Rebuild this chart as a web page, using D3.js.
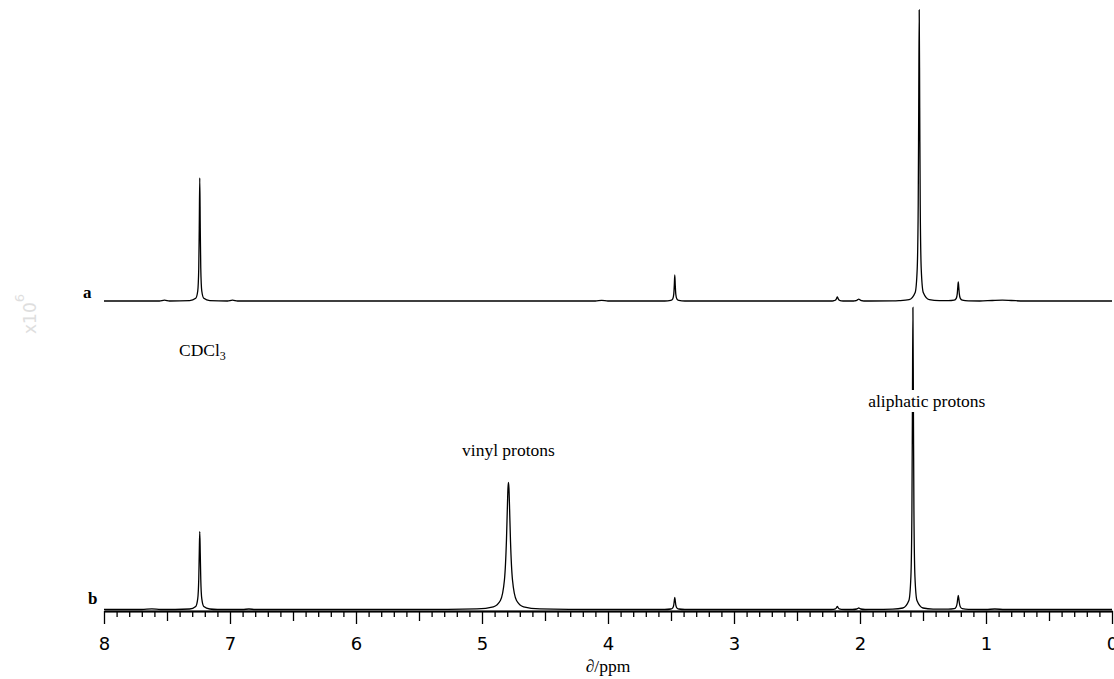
<!DOCTYPE html>
<html><head><meta charset="utf-8">
<script src="https://cdn.jsdelivr.net/npm/d3@7"></script>
<style>
html,body{margin:0;padding:0;background:#fff;}
svg{display:block;}
</style></head>
<body>
<svg id="chart" width="1114" height="679"></svg>
<script>
// ---------- DATA ----------
const majorTicks = [8, 7, 6, 5, 4, 3, 2, 1, 0];
const tickLabels = ["8", "7", "6", "5", "4", "3", "2", "1", "0"];
const xLabel = "\u2202/ppm";
const seriesNames = ["a", "b"];

// spectrum a : [ppm, intensity]
const spectrumA = [
  [8.00,0],[7.56,0],[7.52,0.8],[7.48,0],
  [7.32,0.4],[7.272,2.7],[7.256,10],[7.248,33],[7.244,73],[7.24,123],[7.236,73],[7.232,33],[7.224,10],[7.208,2.7],[7.16,0.4],
  [7.02,0],[6.98,0.9],[6.94,0],
  [4.10,0],[4.05,0.6],[4.00,0],
  [3.55,0],[3.502,0.6],[3.486,2.2],[3.478,6.9],[3.474,15.4],[3.47,26],[3.466,15.4],[3.462,6.9],[3.454,2.2],[3.438,0.6],[3.39,0],
  [2.23,0],[2.212,0.2],[2.196,0.8],[2.188,2],[2.184,3.2],[2.18,4],[2.176,3.2],[2.172,2],[2.164,0.8],[2.148,0.2],[2.12,0],
  [2.06,0],[2.042,0.2],[2.026,0.7],[2.018,1.4],[2.01,1.9],[2.002,1.4],[1.994,0.7],[1.978,0.2],[1.96,0],
  [1.74,0.1],[1.69,0.36],[1.61,1.4],[1.562,8.6],[1.546,32],[1.538,96],[1.534,193],[1.53,291],[1.526,193],[1.522,96],[1.514,32],[1.498,8.6],[1.45,1.4],[1.37,0.36],
  [1.30,0.3],[1.252,0.8],[1.236,2.6],[1.228,7.4],[1.224,13.7],[1.22,19],[1.216,13.7],[1.212,7.4],[1.204,2.6],[1.188,0.8],[1.14,0.15],
  [1.05,0],[0.95,0.5],[0.87,0.8],[0.80,0.5],[0.70,0],
  [0.00,0]
];

// spectrum b : [ppm, intensity]
const spectrumB = [
  [8.00,0],[7.70,0],[7.62,0.6],[7.55,0],
  [7.32,0.5],[7.272,3],[7.256,10.8],[7.248,30.5],[7.244,56],[7.24,78],[7.236,56],[7.232,30.5],[7.224,10.8],[7.208,3],[7.16,0.5],[7.10,0],
  [6.90,0],[6.85,0.5],[6.80,0],
  [5.27,0.15],[5.04,0.6],[4.91,2.7],[4.854,9],[4.822,29.5],[4.806,69],[4.798,105],[4.794,121],[4.79,127],[4.786,121],[4.782,105],[4.774,69],[4.758,29.5],[4.726,9],[4.67,2.7],[4.54,0.6],[4.31,0.15],
  [3.55,0],[3.502,0.5],[3.486,1.7],[3.478,4.7],[3.474,8.6],[3.47,12],[3.466,8.6],[3.462,4.7],[3.454,1.7],[3.438,0.5],[3.39,0],
  [2.23,0],[2.212,0.15],[2.196,0.6],[2.188,1.5],[2.184,2.4],[2.18,3],[2.176,2.4],[2.172,1.5],[2.164,0.6],[2.148,0.15],[2.12,0],
  [2.06,0],[2.026,0.5],[2.018,1],[2.01,1.5],[2.002,1],[1.994,0.5],[1.96,0],
  [1.90,0.1],[1.74,0.37],[1.66,1.5],[1.612,9],[1.596,33],[1.588,99],[1.584,200],[1.58,302],[1.576,200],[1.572,99],[1.564,33],[1.548,9],[1.50,1.5],[1.42,0.37],
  [1.30,0.3],[1.252,0.8],[1.236,2.8],[1.228,7],[1.224,11.2],[1.22,14],[1.216,11.2],[1.212,7],[1.204,2.8],[1.188,0.8],[1.14,0.1],
  [1.00,0],[0.93,0.5],[0.85,0],
  [0.00,0]
];

const annotationTexts = ["CDCl", "vinyl protons", "aliphatic protons"];

// ---------- DRAW ----------
const svg = d3.select("#chart");
const x = d3.scaleLinear().domain([8, 0]).range([104, 1112]);
const yA = d3.scaleLinear().domain([0, 300]).range([301, 1]);
const yB = d3.scaleLinear().domain([0, 300]).range([609.5, 309.5]);

const lineA = d3.line().x(d => x(d[0])).y(d => yA(d[1])).curve(d3.curveMonotoneX);
const lineB = d3.line().x(d => x(d[0])).y(d => yB(d[1])).curve(d3.curveMonotoneX);

svg.append("path").datum(spectrumA).attr("d", lineA)
  .attr("fill", "none").attr("stroke", "#000").attr("stroke-width", 1.3);
svg.append("path").datum(spectrumB).attr("d", lineB)
  .attr("fill", "none").attr("stroke", "#000").attr("stroke-width", 1.3);

// axis
const axisY = 611;
const minorVals = x.ticks(80).filter(v => Math.abs(v * 2 - Math.round(v * 2)) > 1e-6);
const halfVals = x.ticks(16).filter(v => Math.abs(v - Math.round(v)) > 1e-6);

const gMinor = svg.append("g").attr("transform", `translate(0,${axisY})`)
  .call(d3.axisBottom(x).tickValues(minorVals).tickSize(6).tickSizeOuter(0).tickFormat(""));
const gHalf = svg.append("g").attr("transform", `translate(0,${axisY})`)
  .call(d3.axisBottom(x).tickValues(halfVals).tickSize(10).tickSizeOuter(0).tickFormat(""));
const gMajor = svg.append("g").attr("transform", `translate(0,${axisY})`)
  .call(d3.axisBottom(x).tickValues(majorTicks).tickSize(13).tickSizeOuter(0).tickPadding(13)
    .tickFormat((d, i) => tickLabels[i]));

[gMinor, gHalf, gMajor].forEach(g => {
  g.selectAll(".tick line").attr("stroke", "#000").attr("stroke-width", 1.3);
  g.select(".domain").attr("stroke", "#000").attr("stroke-width", 1.6);
});
gMajor.selectAll(".tick text").attr("fill", "#000")
  .style("font-family", "'DejaVu Sans', sans-serif").style("font-size", "18px");

svg.append("text").attr("x", 608).attr("y", 672).attr("text-anchor", "middle")
  .style("font-family", "'Liberation Serif', 'Times New Roman', serif").style("font-size", "17.5px")
  .text(xLabel);

// series labels
svg.append("text").attr("x", 83).attr("y", 298)
  .style("font-family", "'Liberation Serif', serif").style("font-weight", "bold").style("font-size", "17px")
  .text(seriesNames[0]);
svg.append("text").attr("x", 88).attr("y", 604)
  .style("font-family", "'Liberation Serif', serif").style("font-weight", "bold").style("font-size", "17px")
  .text(seriesNames[1]);

// annotations
const serif = "'Liberation Serif', 'Times New Roman', serif";
function ann(txt, px, py, anchor, sub) {
  const g = svg.append("g");
  const t = g.append("text").attr("x", px).attr("y", py).attr("text-anchor", anchor)
    .style("font-family", serif).style("font-size", "17.5px").text(txt);
  if (sub) t.append("tspan").attr("dy", 4).style("font-size", "12px").text(sub);
  const bb = t.node().getBBox();
  g.insert("rect", "text").attr("x", bb.x - 2).attr("y", bb.y - 1)
    .attr("width", bb.width + 4).attr("height", bb.height + 2).attr("fill", "#fff");
}
ann(annotationTexts[0], 179, 356, "start", "3");
ann(annotationTexts[1], x(4.79), 456, "middle");
ann(annotationTexts[2], x(1.47), 407, "middle");

// faint y-scale multiplier
const mult = svg.append("text").attr("transform", "translate(35.5,314) rotate(-90)")
  .attr("text-anchor", "middle").attr("fill", "#dedede")
  .style("font-family", "'DejaVu Sans', sans-serif").style("font-size", "17px");
mult.append("tspan").text("x10");
mult.append("tspan").attr("dy", -12).style("font-size", "13px").text("6");
</script>
</body></html>
